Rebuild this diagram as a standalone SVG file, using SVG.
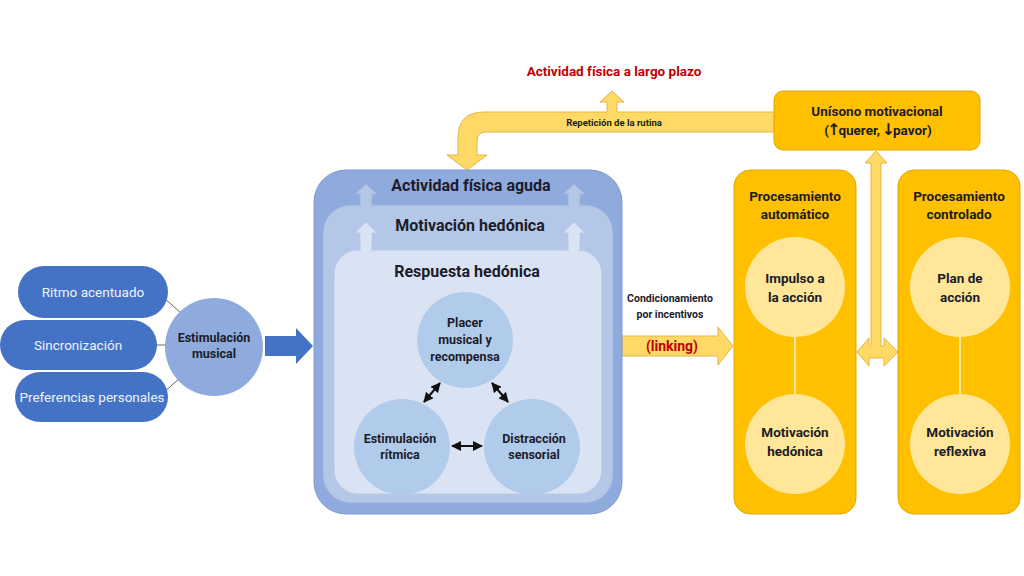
<svg xmlns="http://www.w3.org/2000/svg" width="1024" height="576" viewBox="0 0 1024 576">
<defs>
<style>
text{font-family:Roboto,"Liberation Sans",sans-serif;font-weight:bold;fill:#1c1c2a;text-anchor:middle}
.pill{fill:#4472C4}
.pilltxt{font-weight:normal;fill:#eef2fa;font-size:13.5px}
.c13{font-size:12.5px}
.c14{font-size:13.5px}
.band{font-size:16px}
.arr{font-family:"DejaVu Sans",sans-serif;font-size:16px}
.yarrow{fill:#FFD966;stroke:#E3B548;stroke-width:1}
.ypanel{fill:#FFC000;stroke:#E0A800;stroke-width:1}
.ycirc{fill:#FFE699}
.bcirc{fill:#B1CCEA}
.red{fill:#C00000}
</style>
<marker id="ah" viewBox="0 0 10 10" refX="9" refY="5" markerWidth="5" markerHeight="5" orient="auto-start-reverse">
<path d="M0 0 L10 5 L0 10 Z" fill="#111"/>
</marker>
</defs>
<rect width="1024" height="576" fill="#ffffff"/>

<g id="connectors">
<line x1="163" y1="297" x2="181" y2="313" stroke="#666" stroke-width="1"/>
<line x1="155" y1="345" x2="167" y2="345" stroke="#666" stroke-width="1"/>
<line x1="163" y1="393" x2="180" y2="378" stroke="#666" stroke-width="1"/>
<path d="M265 336 L296 336 L296 328 L313 346 L296 364 L296 356 L265 356 Z" fill="#4472C4"/>
<path class="yarrow" d="M622 336 L718 336 L718 327 L733 346 L718 365 L718 356 L622 356 Z"/>
<path class="yarrow" d="M775 112 L617 112 L617 102 L624 102 L612 91 L600 102 L607 102 L607 112 L484 112 Q458 112 458 138 L458 155 L447 155 L467 170 L487 155 L477 155 L477 141 Q477 132 486 132 L775 132 Z"/>
<path class="yarrow" d="M876 151 L887 163 L881 163 L881 346 L884 346 L884 338 L898 352 L884 366 L884 358 L869 358 L869 366 L857 352 L869 338 L869 346 L871 346 L871 163 L865 163 Z"/>
</g>

<g id="node-ritmo">
<rect class="pill" x="18" y="266" width="150" height="52" rx="26"/>
<text class="pilltxt" x="93" y="297">Ritmo acentuado</text>
</g>
<g id="node-sincronizacion">
<rect class="pill" x="0" y="320" width="157" height="50" rx="25"/>
<text class="pilltxt" x="78" y="350">Sincronización</text>
</g>
<g id="node-preferencias">
<rect class="pill" x="15" y="372" width="153" height="50" rx="25"/>
<text class="pilltxt" x="92" y="402">Preferencias personales</text>
</g>
<g id="node-estimulacion-musical">
<circle cx="214" cy="347" r="49" fill="#8FAADC"/>
<text class="c13" x="214" y="342">Estimulación</text>
<text class="c13" x="214" y="358">musical</text>
</g>

<g id="node-actividad-aguda">
<rect x="314" y="170" width="308" height="344" rx="32" fill="#8FAADC" stroke="#7E9BD3" stroke-width="1"/>
<text class="band" x="471" y="191">Actividad física aguda</text>
</g>
<g id="node-motivacion-hedonica-band">
<rect x="323" y="205" width="290" height="298" rx="28" fill="#B4C7E7" stroke="#9DB4DF" stroke-width="1"/>
<path d="M360 207 L360 194 L355 194 L366 184 L377 194 L372 194 L372 207" fill="#B4C7E7" stroke="#9DB4DF" stroke-width="1"/>
<path d="M568 207 L568 194 L563 194 L574 184 L585 194 L580 194 L580 207" fill="#B4C7E7" stroke="#9DB4DF" stroke-width="1"/>
<text class="band" x="470" y="231">Motivación hedónica</text>
</g>
<g id="node-respuesta-hedonica">
<rect x="334" y="250" width="268" height="244" rx="24" fill="#DAE3F3" stroke="#B9CAE8" stroke-width="1"/>
<path d="M360 252 L360 233 L355 233 L366 222 L377 233 L372 233 L372 252" fill="#DAE3F3" stroke="#B9CAE8" stroke-width="1"/>
<path d="M568 252 L568 233 L563 233 L574 222 L585 233 L580 233 L580 252" fill="#DAE3F3" stroke="#B9CAE8" stroke-width="1"/>
<text class="band" x="467" y="277">Respuesta hedónica</text>
</g>
<g id="node-placer">
<circle class="bcirc" cx="465" cy="340" r="48"/>
<text class="c13" x="465" y="327">Placer</text>
<text class="c13" x="465" y="344">musical y</text>
<text class="c13" x="465" y="361">recompensa</text>
</g>
<g id="node-estimulacion-ritmica">
<circle class="bcirc" cx="402" cy="447" r="48"/>
<text class="c13" x="400" y="443">Estimulación</text>
<text class="c13" x="400" y="459">rítmica</text>
</g>
<g id="node-distraccion">
<circle class="bcirc" cx="532" cy="447" r="48"/>
<text class="c13" x="534" y="443">Distracción</text>
<text class="c13" x="534" y="459">sensorial</text>
</g>
<g id="inner-arrows">
<line x1="424" y1="402" x2="440" y2="383" stroke="#111" stroke-width="2" marker-start="url(#ah)" marker-end="url(#ah)"/>
<line x1="492" y1="383" x2="508" y2="402" stroke="#111" stroke-width="2" marker-start="url(#ah)" marker-end="url(#ah)"/>
<line x1="452" y1="446" x2="482" y2="446" stroke="#111" stroke-width="2" marker-start="url(#ah)" marker-end="url(#ah)"/>
</g>

<g id="label-largo-plazo">
<text class="red" x="614" y="76" font-size="13.5">Actividad física a largo plazo</text>
</g>
<g id="label-rutina">
<text x="614" y="126" font-size="9.5">Repetición de la rutina</text>
</g>
<g id="label-condicionamiento">
<text x="670" y="302" font-size="10.5">Condicionamiento</text>
<text x="670" y="318" font-size="10.5">por incentivos</text>
<text class="red" x="672" y="351" font-size="14">(linking)</text>
</g>

<g id="node-unisono">
<rect class="ypanel" x="774" y="91" width="206" height="59" rx="9"/>
<text class="c14" x="877" y="116">Unísono motivacional</text>
<text class="c14" x="878" y="135">(<tspan class="arr" dx="-2">↑</tspan><tspan dx="-2">querer, </tspan><tspan class="arr" dx="-2">↓</tspan><tspan dx="-2">pavor)</tspan></text>
</g>

<g id="node-automatico">
<rect class="ypanel" x="734" y="170" width="122" height="344" rx="16"/>
<text class="c14" x="795" y="201">Procesamiento</text>
<text class="c14" x="795" y="219">automático</text>
<line x1="795" y1="337" x2="795" y2="394" stroke="#FFE699" stroke-width="2"/>
<circle class="ycirc" cx="795" cy="287" r="50"/>
<text class="c14" x="795" y="283">Impulso a</text>
<text class="c14" x="795" y="302">la acción</text>
<circle class="ycirc" cx="795" cy="444" r="50"/>
<text class="c14" x="795" y="437">Motivación</text>
<text class="c14" x="795" y="456">hedónica</text>
</g>

<g id="node-controlado">
<rect class="ypanel" x="898" y="170" width="122" height="344" rx="16"/>
<text class="c14" x="959" y="201">Procesamiento</text>
<text class="c14" x="959" y="219">controlado</text>
<line x1="960" y1="337" x2="960" y2="394" stroke="#FFE699" stroke-width="2"/>
<circle class="ycirc" cx="960" cy="287" r="50"/>
<text class="c14" x="960" y="283">Plan de</text>
<text class="c14" x="960" y="302">acción</text>
<circle class="ycirc" cx="960" cy="444" r="50"/>
<text class="c14" x="960" y="437">Motivación</text>
<text class="c14" x="960" y="456">reflexiva</text>
</g>
</svg>
